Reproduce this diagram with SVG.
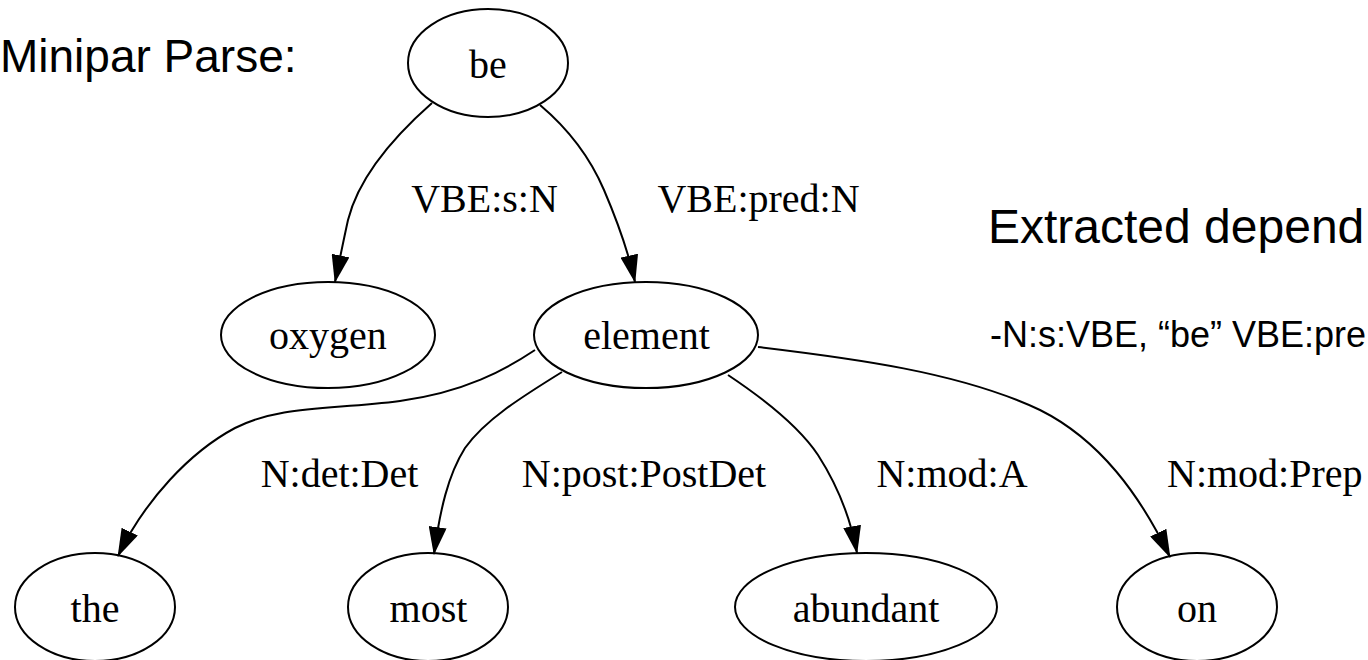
<svg xmlns="http://www.w3.org/2000/svg" width="1368" height="660" viewBox="0 0 1368 660">
<style>
  .bg { fill: #ffffff; }
  .node ellipse { fill: none; stroke: #000000; stroke-width: 2; }
  .node text, .lbl { font-family: "Liberation Serif", "Times New Roman", serif; font-size: 40px; fill: #000000; }
  .node text { text-anchor: middle; }
  .edge { fill: none; stroke: #000000; stroke-width: 2; marker-end: url(#arrow); }
  .sans { font-family: "Liberation Sans", Arial, sans-serif; fill: #000000; }
</style>
<defs>
  <marker id="arrow" viewBox="0 0 28 18" refX="27" refY="9" markerWidth="28" markerHeight="18" markerUnits="userSpaceOnUse" orient="auto">
    <path d="M0,0 L28,9 L0,18 z" fill="#000000"/>
  </marker>
</defs>
<rect class="bg" x="0" y="0" width="1368" height="660"/>

<text class="sans" x="0" y="72" font-size="46">Minipar Parse:</text>
<text class="sans" x="988" y="243" font-size="48">Extracted depend</text>
<text class="sans" x="990" y="347" font-size="36">-N:s:VBE, “be” VBE:pre</text>

<g id="connectors">
  <path class="edge" d="M432,103 C390,140 358,180 348,220 C344,238 340,258 335,282"/>
  <path class="edge" d="M540,105 C572,132 592,162 604,190 C616,218 628,250 635,282"/>
  <path class="edge" d="M535,350 C505,370 465,392 400,401 C330,410 280,405 235,428 C190,452 145,500 118,556"/>
  <path class="edge" d="M562,372 C520,398 485,420 465,448 C448,475 440,510 434,554"/>
  <path class="edge" d="M728,375 C770,403 800,428 818,455 C836,483 850,515 857,553"/>
  <path class="edge" d="M758,347 C850,358 960,372 1040,410 C1100,440 1140,495 1170,557"/>
  <text class="lbl" x="484.5" y="212" text-anchor="middle">VBE:s:N</text>
  <text class="lbl" x="758.5" y="212" text-anchor="middle">VBE:pred:N</text>
  <text class="lbl" x="339.5" y="487" text-anchor="middle">N:det:Det</text>
  <text class="lbl" x="644" y="487" text-anchor="middle">N:post:PostDet</text>
  <text class="lbl" x="952" y="487" text-anchor="middle">N:mod:A</text>
  <text class="lbl" x="1167" y="487">N:mod:Prep</text>
</g>

<g id="node-be" class="node">
  <ellipse cx="488" cy="63" rx="80" ry="54"/>
  <text x="488" y="78">be</text>
</g>
<g id="node-oxygen" class="node">
  <ellipse cx="328" cy="335" rx="107" ry="53"/>
  <text x="328" y="349">oxygen</text>
</g>
<g id="node-element" class="node">
  <ellipse cx="646" cy="335" rx="112" ry="53"/>
  <text x="646.5" y="349">element</text>
</g>
<g id="node-the" class="node">
  <ellipse cx="95" cy="607" rx="80" ry="54"/>
  <text x="95" y="622">the</text>
</g>
<g id="node-most" class="node">
  <ellipse cx="428" cy="607" rx="80" ry="54"/>
  <text x="428.5" y="622">most</text>
</g>
<g id="node-abundant" class="node">
  <ellipse cx="866" cy="607" rx="131" ry="54"/>
  <text x="866" y="622">abundant</text>
</g>
<g id="node-on" class="node">
  <ellipse cx="1197" cy="607" rx="80" ry="54"/>
  <text x="1197" y="622">on</text>
</g>
</svg>
